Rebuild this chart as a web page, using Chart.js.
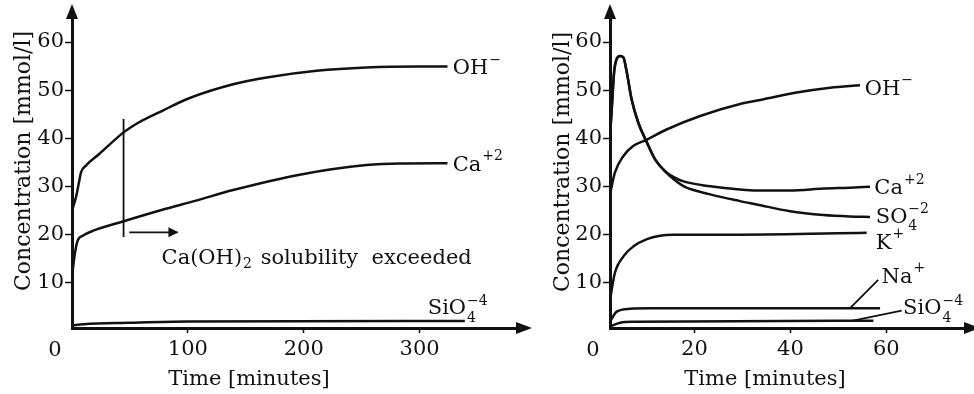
<!DOCTYPE html>
<html>
<head>
<meta charset="utf-8">
<script src="https://cdn.jsdelivr.net/npm/chart.js@4.4.1/dist/chart.umd.min.js"></script>
<style>
  html, body { margin: 0; padding: 0; background: #fff; }
  #wrap { position: relative; width: 974px; height: 394px; overflow: hidden; }
  canvas { position: absolute; top: 0; }
  #left { left: 0; }
  #right { left: 540px; }
</style>
</head>
<body>
<div id="wrap">
  <canvas id="left" width="540" height="394"></canvas>
  <canvas id="right" width="434" height="394"></canvas>
</div>
<script>
const ink = '#111';
const serif = '"DejaVu Serif", "Liberation Serif", serif';

const yTicks = [10, 20, 30, 40, 50, 60];
const leftXTicks = [100, 200, 300];
const rightXTicks = [20, 40, 60];
const originLabel = '0';
const xTitle = 'Time [minutes]';
const yTitle = 'Concentration [mmol/l]';

// left panel, up to ~340 min
const lOhT = [0, 3.4, 5.8, 7.8, 12, 23.5, 44.5, 55, 78, 100, 139, 168, 211, 254, 300, 324];
const lOhV = [24.9, 27.7, 30.5, 32.9, 34.3, 36.7, 41.2, 42.9, 45.7, 48.2, 51.2, 52.6, 54.0, 54.7, 54.9, 54.9];
const lCaT = [0, 2, 4.9, 9.2, 17.8, 44.5, 78, 107, 139, 196.5, 254, 283, 324];
const lCaV = [11.0, 15.2, 18.7, 19.7, 20.7, 22.7, 25.1, 27.0, 29.2, 32.4, 34.4, 34.75, 34.8];
const lSiT = [0, 10, 50, 100, 339];
const lSiV = [1.0, 1.3, 1.6, 1.85, 1.95];
// solubility marker and arrow
const markT = [44.5, 44.5];
const markV = [19.4, 44.0];
const arrowT = [49.4, 91];
const arrowV = [20.4, 20.4];

// right panel, first hour
const rOhT = [2.4, 3.4, 5.2, 7.3, 10.1, 14.2, 21.2, 29.5, 34.4, 41.3, 48.3, 54.5];
const rOhV = [28.3, 32.8, 36.3, 38.4, 39.7, 41.8, 44.6, 47.1, 48.1, 49.5, 50.5, 51.0];
const rCaT = [2.4, 2.8, 3.25, 3.8, 4.5, 5.2, 5.9, 6.9, 8.3, 10.1, 11.8, 13.9, 15.5, 17.7, 23.3, 29.5, 33, 39.9, 46.9, 52.4, 56.6];
const rCaV = [40.4, 46.7, 53.7, 56.5, 57.1, 56.8, 53.7, 48.1, 43.2, 39.1, 35.6, 33.1, 32.0, 31.0, 30.0, 29.3, 29.1, 29.1, 29.5, 29.7, 29.9];
const rSoT = [2.4, 2.8, 3.25, 3.8, 4.5, 5.2, 5.9, 6.9, 8.3, 10.1, 11.8, 13.9, 15.5, 17.7, 23.3, 29.5, 33, 39.9, 46.9, 52.4, 56.6];
const rSoV = [40.4, 46.7, 53.7, 56.5, 57.1, 56.8, 53.7, 48.1, 43.2, 39.1, 35.6, 33.1, 31.6, 30.0, 28.3, 26.9, 26.2, 24.8, 24.0, 23.7, 23.6];
const rKT = [2.4, 3.4, 5.2, 7.3, 10.1, 12.8, 15.6, 29.5, 55.9];
const rKV = [6.3, 11.9, 15.4, 17.5, 19.0, 19.7, 19.9, 19.9, 20.3];
const rNaT = [2.4, 3.8, 6.6, 10.8, 58.7];
const rNaV = [1.8, 3.9, 4.5, 4.6, 4.6];
const rSiT = [2.4, 4.5, 7.3, 57.3];
const rSiV = [0.8, 1.6, 1.8, 2.0];
const naLeadT = [52.4, 58.3];
const naLeadV = [4.6, 10.5];
const siLeadT = [52.8, 63.2];
const siLeadV = [2.0, 4.1];

const leftLabels = [
  { t: 328.5, v: 54.9, base: 'OH', sup: '−' },
  { t: 328.5, v: 34.8, base: 'Ca', sup: '+2' },
  { t: 307, v: 4.9, base: 'SiO', sub: '4', sup: '−4' },
  { t: 77.3, v: 15.3, base: 'Ca(OH)', sub: '2', tail: ' solubility  exceeded' },
];
const rightLabels = [
  { t: 55.5, v: 50.6, base: 'OH', sup: '−' },
  { t: 57.5, v: 29.9, base: 'Ca', sup: '+2' },
  { t: 57.8, v: 24.0, base: 'SO', sub: '4', sup: '−2' },
  { t: 57.8, v: 18.6, base: 'K', sup: '+' },
  { t: 59.0, v: 11.5, base: 'Na', sup: '+' },
  { t: 63.5, v: 4.9, base: 'SiO', sub: '4', sup: '−4' },
];

const pts = (ts, vs) => ts.map((t, i) => ({ x: t, y: vs[i] }));

function curve(ts, vs, width) {
  return {
    data: pts(ts, vs), showLine: true, pointRadius: 0, borderColor: ink,
    borderWidth: width || 2.5, cubicInterpolationMode: 'monotone', fill: false
  };
}
function straight(ts, vs, width) {
  return { data: pts(ts, vs), showLine: true, pointRadius: 0, borderColor: ink, borderWidth: width, tension: 0, fill: false };
}

function drawLabel(ctx, x, yc, lb) {
  ctx.textAlign = 'left';
  ctx.textBaseline = 'alphabetic';
  ctx.font = '21px ' + serif;
  ctx.fillText(lb.base, x, yc + 7.5);
  x += ctx.measureText(lb.base).width + 1;
  ctx.font = '14px ' + serif;
  let w = 0;
  if (lb.sub && lb.sup) {
    ctx.fillText(lb.sup, x, yc - 2);
    ctx.fillText(lb.sub, x, yc + 15);
    w = Math.max(ctx.measureText(lb.sup).width, ctx.measureText(lb.sub).width);
  } else if (lb.sup) {
    ctx.fillText(lb.sup, x, yc - 3);
    w = ctx.measureText(lb.sup).width;
  } else if (lb.sub) {
    ctx.fillText(lb.sub, x, yc + 11);
    w = ctx.measureText(lb.sub).width;
  }
  if (lb.tail) {
    ctx.font = '21px ' + serif;
    ctx.fillText(lb.tail, x + w + 2, yc + 7.5);
  }
}

function tri(ctx, ax, ay, bx, by, cx, cy) {
  ctx.beginPath();
  ctx.moveTo(ax, ay); ctx.lineTo(bx, by); ctx.lineTo(cx, cy);
  ctx.closePath();
  ctx.fill();
}

// axis arrows, origin, titles and curve labels
function makeDeco(cfg) {
  return {
    id: 'deco',
    afterDraw(chart) {
      const { ctx, chartArea: a, scales: { x, y } } = chart;
      ctx.save();
      ctx.fillStyle = ink;
      tri(ctx, a.left, a.top - 14, a.left - 6, a.top + 1, a.left + 6, a.top + 1);
      tri(ctx, a.right + 15, a.bottom, a.right - 1, a.bottom - 6, a.right - 1, a.bottom + 6);

      ctx.font = '21px ' + serif;
      ctx.textAlign = 'center';
      ctx.textBaseline = 'alphabetic';
      ctx.fillText(originLabel, a.left - 17, 355.5);
      ctx.fillText(xTitle, cfg.xTitleX, 385);

      ctx.save();
      ctx.translate(cfg.yTitleX, cfg.yTitleY);
      ctx.rotate(-Math.PI / 2);
      ctx.font = '22px ' + serif;
      ctx.fillText(yTitle, 0, 0);
      ctx.restore();

      cfg.labels.forEach(lb => drawLabel(ctx, x.getPixelForValue(lb.t), y.getPixelForValue(lb.v), lb));

      if (cfg.arrow) {
        const px = x.getPixelForValue(cfg.arrow.t), py = y.getPixelForValue(cfg.arrow.v);
        tri(ctx, px + 1, py, px - 9, py - 5, px - 9, py + 5);
      }
      ctx.restore();
    }
  };
}

function makeOptions(xMin, xMax, xTicks, yWidth, padRight) {
  return {
    responsive: false,
    animation: false,
    events: [],
    layout: { padding: { top: 18, right: padRight, left: 0, bottom: 0 } },
    plugins: { legend: { display: false }, tooltip: { enabled: false } },
    scales: {
      x: {
        type: 'linear', min: xMin, max: xMax,
        afterBuildTicks: s => { s.ticks = xTicks.map(v => ({ value: v })); },
        afterFit: s => { s.height = 66; },
        grid: { display: true, drawOnChartArea: false, drawTicks: true, tickLength: 5, tickWidth: 1.5, tickColor: ink, color: ink },
        border: { display: true, color: ink, width: 3 },
        ticks: { color: ink, padding: 4, maxRotation: 0, font: { family: serif, size: 21 } }
      },
      y: {
        type: 'linear', min: 0.5, max: 65,
        afterBuildTicks: s => { s.ticks = yTicks.map(v => ({ value: v })); },
        afterFit: s => { s.width = yWidth; },
        grid: { display: true, drawOnChartArea: false, drawTicks: true, tickLength: 7, tickWidth: 1.5, tickColor: ink, color: ink },
        border: { display: true, color: ink, width: 3 },
        ticks: { color: ink, padding: 1, font: { family: serif, size: 21 } }
      }
    }
  };
}

new Chart(document.getElementById('left'), {
  type: 'scatter',
  data: {
    datasets: [
      curve(lOhT, lOhV),
      curve(lCaT, lCaV),
      curve(lSiT, lSiV),
      straight(markT, markV, 1.8),
      straight(arrowT, arrowV, 1.8)
    ]
  },
  options: makeOptions(0, 384, leftXTicks, 72, 23),
  plugins: [makeDeco({ xTitleX: 249, yTitleX: 30, yTitleY: 161, labels: leftLabels, arrow: { t: arrowT[1], v: arrowV[1] } })]
});

new Chart(document.getElementById('right'), {
  type: 'scatter',
  data: {
    datasets: [
      curve(rOhT, rOhV),
      curve(rCaT, rCaV),
      curve(rSoT, rSoV),
      curve(rKT, rKV),
      curve(rNaT, rNaV),
      curve(rSiT, rSiV),
      straight(naLeadT, naLeadV, 1.8),
      straight(siLeadT, siLeadV, 1.8)
    ]
  },
  options: makeOptions(2.4, 76.4, rightXTicks, 70, 9),
  plugins: [makeDeco({ xTitleX: 225, yTitleX: 28.5, yTitleY: 162, labels: rightLabels })]
});
</script>
</body>
</html>
